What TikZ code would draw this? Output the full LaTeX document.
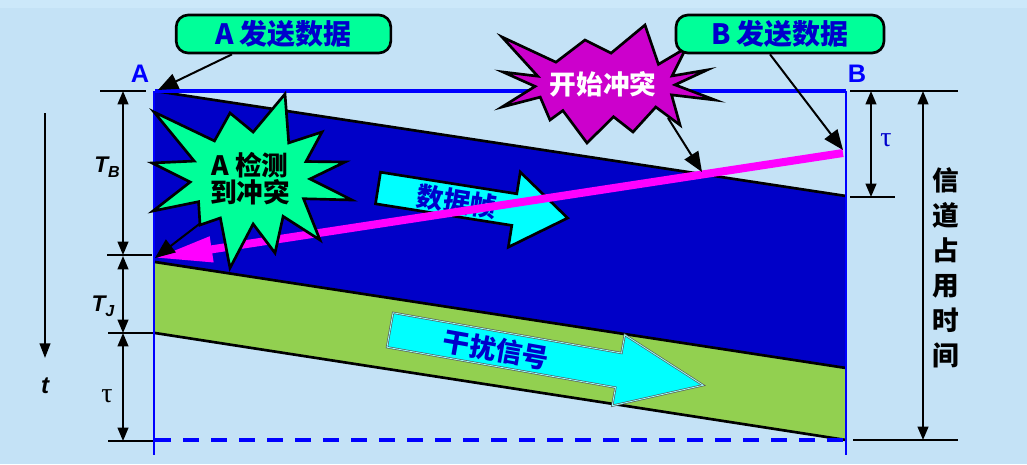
\documentclass[tikz,border=0pt]{standalone}
\usepackage{fontspec}
\setmainfont{Liberation Sans}
\newfontfamily\cjk{Noto Sans CJK SC}
\newfontfamily\grk{Liberation Serif}
\usetikzlibrary{arrows.meta,calc}
\definecolor{bg}{HTML}{C4E2F6}
\definecolor{bgtop}{HTML}{CCE8FA}
\definecolor{bandblue}{HTML}{0000C8}
\definecolor{bandgreen}{HTML}{92D050}
\definecolor{callgreen}{HTML}{00FF99}
\definecolor{starpurple}{HTML}{CC00CC}
\definecolor{txtblue}{HTML}{0000CC}
\definecolor{lineblue}{HTML}{0000FF}
\definecolor{mag}{HTML}{FF00FF}
\definecolor{arrcyan}{HTML}{00FFFF}
\newcommand\fsz[1]{\fontsize{#1}{#1}\selectfont}
\begin{document}
\begin{tikzpicture}[x=0.75pt,y=-0.75pt,
  ptr/.style={line width=1.5pt,-{Triangle[length=15pt,width=12pt]}},
  dimarr/.style={line width=1.5pt,{Triangle[length=10pt,width=8pt]}-{Triangle[length=10pt,width=8pt]}},
  tickln/.style={line width=2pt},
  bandedge/.style={line width=2pt},
  callout/.style={draw=black,line width=2pt,fill=callgreen,rounded corners=9pt,inner sep=0pt,text=txtblue,font=\cjk\bfseries\fsz{21}},
  star/.style={draw=black,line width=2pt,line join=miter},
  blk/.style={draw=black,line width=2pt,fill=arrcyan,line join=miter},
  blk2/.style={draw=black!65,double=arrcyan!40!white,double distance=0.6pt,line width=0.5pt,fill=arrcyan,line join=miter},
  lbl/.style={inner sep=0pt}
]
% background
\fill[bg] (0,0) rectangle (1027,464);
\fill[bgtop] (0,0) rectangle (1027,8);
\useasboundingbox (0,0) rectangle (1027,464);

% key coordinates
\coordinate (A0) at (155,91);
\coordinate (B0) at (846,91);
\coordinate (Bfr) at (846,196);
\coordinate (Ab) at (155,262);
\coordinate (Bb) at (846,368);
\coordinate (Ag) at (155,333);
\coordinate (Bg) at (846,440);

% bands
\fill[bandblue] (A0) -- (Bfr) -- (Bb) -- (Ab) -- cycle;
\fill[bandgreen] (Ab) -- (Bb) -- (Bg) -- (Ag) -- cycle;
\draw[bandedge] (A0) -- (Bfr);
\draw[bandedge] (Ab) -- (Bb);
\draw[bandedge] (Ag) -- (Bg);

% blue channel lines
\draw[lineblue,line width=1.5pt] (154,91) -- (154,455);
\draw[lineblue,line width=1.5pt] (846,91) -- (846,455);
\draw[lineblue,line width=2.3pt] (A0) -- (B0);
\draw[lineblue,line width=2.3pt,dash pattern=on 12pt off 9pt] (155,440) -- (846,440);

% data frame arrow
\begin{scope}[shift={(378,188)},rotate=-9]
  \draw[blk] (0,-16) -- (138,-16) -- (138,-38) -- (192,0) -- (138,38) -- (138,16) -- (0,16) -- cycle;
  \node[lbl,rotate=-9,text=txtblue,font=\cjk\bfseries\fsz{20}] (dataframe) at (80,1) {数据帧};
\end{scope}

% interference arrow
\begin{scope}[shift={(390,330)},rotate=-10]
  \draw[blk2] (0,-17.5) -- (232,-17.5) -- (232,-36) -- (318,0) -- (232,36) -- (232,17.5) -- (0,17.5) -- cycle;
  \node[lbl,rotate=-10,text=txtblue,font=\cjk\bfseries\fsz{20}] (jam) at (108,1) {干扰信号};
\end{scope}

% collision signal (magenta)
\coordinate (mR) at (843,153);
\coordinate (hitA) at (155,258);
\draw[mag,line width=6pt,-{Triangle[length=43pt,width=18pt]}] (mR) -- (hitA);

% green starburst: A detects collision
\coordinate (gc) at (250,178);
\draw[ptr] (215,212) -- (hitA);
\draw[star,fill=callgreen] (285,94) -- ($(gc)+(-49.8:60 and 46)$) -- (322,132) -- ($(gc)+(-21:60 and 46)$)
  -- (345,162) -- ($(gc)+(1.2:60 and 46)$) -- (352,200) -- ($(gc)+(26.8:60 and 46)$)
  -- (320,240) -- ($(gc)+(56.5:60 and 46)$) -- (275,253) -- ($(gc)+(87:60 and 46)$)
  -- (230,268) -- ($(gc)+(119.6:60 and 46)$) -- (200,225) -- ($(gc)+(149:60 and 46)$)
  -- (153,211) -- ($(gc)+(175:60 and 46)$) -- (152,163) -- ($(gc)+(201.6:60 and 46)$)
  -- (154,112) -- ($(gc)+(233.7:60 and 46)$) -- (230,113) -- ($(gc)+(273:60 and 46)$) -- cycle;
\node[lbl,align=center,font=\cjk\bfseries\fsz{20}] (gs) at (250,179) {A 检测\\到冲突};

% purple starburst: collision starts
\coordinate (pc) at (605,85);
\draw[star,fill=starpurple] (502,37) -- ($(pc)+(225.5:70 and 32)$) -- (585,40) -- ($(pc)+(275:70 and 32)$)
  -- (645,25) -- ($(pc)+(319.75:70 and 32)$) -- (686,48) -- ($(pc)+(343.5:70 and 32)$)
  -- (707,70) -- ($(pc)+(359.7:70 and 32)$) -- (715,100) -- ($(pc)+(18:70 and 32)$)
  -- (680,125) -- ($(pc)+(43.5:70 and 32)$) -- (633,132) -- ($(pc)+(83:70 and 32)$)
  -- (587,143) -- ($(pc)+(127:70 and 32)$) -- (550,120) -- ($(pc)+(157.75:70 and 32)$)
  -- (502,107) -- ($(pc)+(177.5:70 and 32)$) -- (503,72) -- ($(pc)+(196:70 and 32)$) -- cycle;
\node[lbl,text=white,font=\cjk\bfseries\fsz{20}] (ps) at (603,84) {开始冲突};
\coordinate (magHit) at (702,172);
\draw[ptr] ($(ps)+(65,34)$) -- (magHit);

% callouts
\node[callout,minimum width=161pt,minimum height=28.5pt] (boxA) at (283.5,34) {A 发送数据};
\node[callout,minimum width=156pt,minimum height=28.5pt] (boxB) at (780,34) {B 发送数据};
\draw[ptr] ($(boxA.south)+(-51.5,0)$) -- (158,90);
\coordinate (mRtip) at (843,150);
\draw[ptr] ($(boxB.south)+(-10,0)$) -- (mRtip);

% station labels
\node[lbl,text=lineblue,font=\bfseries\fsz{19}] (labA) at (140,74) {A};
\node[lbl,text=lineblue,font=\bfseries\fsz{19}] (labB) at (857,74) {B};

% left dimensions
\coordinate (l1a) at (100,91);  \coordinate (l1b) at (146,91);
\coordinate (l2a) at (107,255); \coordinate (l2b) at (152,255);
\coordinate (l3a) at (108,333); \coordinate (l3b) at (153,333);
\coordinate (l4a) at (108,441); \coordinate (l4b) at (153,441);
\draw[tickln] (l1a) -- (l1b);
\draw[tickln] (l2a) -- (l2b);
\draw[tickln] (l3a) -- (l3b);
\draw[tickln] (l4a) -- (l4b);
\coordinate (d1) at (123,91);
\coordinate (d2) at (123,255);
\coordinate (d2b) at (123,256);
\coordinate (d3) at (123,333);
\coordinate (d4) at (123,441);
\draw[dimarr] (d1) -- (d2);
\draw[dimarr] (d2b) -- (d3);
\draw[dimarr] (d3) -- (d4);
\node[lbl,font=\bfseries\itshape\fsz{17}] (TB) at (107,167) {T\raisebox{-0.45ex}{\fsz{12}B}};
\node[lbl,font=\bfseries\itshape\fsz{17}] (TJ) at (103,306) {T\raisebox{-0.45ex}{\fsz{12}J}};
\node[lbl,font=\grk\fsz{21}] (tauL) at (107,396) {τ};

% time axis
\coordinate (t0) at (45,113);
\coordinate (t1) at (45,358);
\draw[line width=1.5pt,-{Triangle[length=11pt,width=8pt]}] (t0) -- (t1);
\node[lbl,font=\bfseries\itshape\fsz{18}] (tlab) at (45,386) {t};

% right dimensions
\coordinate (r1a) at (850,91);  \coordinate (r1b) at (958,91);
\coordinate (r2a) at (850,197); \coordinate (r2b) at (895,197);
\coordinate (r3a) at (853,440); \coordinate (r3b) at (958,440);
\draw[tickln] (r1a) -- (r1b);
\draw[tickln] (r2a) -- (r2b);
\draw[tickln] (r3a) -- (r3b);
\coordinate (rt1) at (871,91);
\coordinate (rt2) at (871,197);
\draw[dimarr] (rt1) -- (rt2);
\node[lbl,text=txtblue,font=\grk\fsz{21}] (tauR) at (886,140) {τ};
\coordinate (rc1) at (923,91);
\coordinate (rc2) at (923,440);
\draw[dimarr] (rc1) -- (rc2);
\node[lbl,align=center,font=\cjk\bfseries\fontsize{20}{26.3}\selectfont] (occ) at (946,268) {信\\道\\占\\用\\时\\间};
\end{tikzpicture}
\end{document}
